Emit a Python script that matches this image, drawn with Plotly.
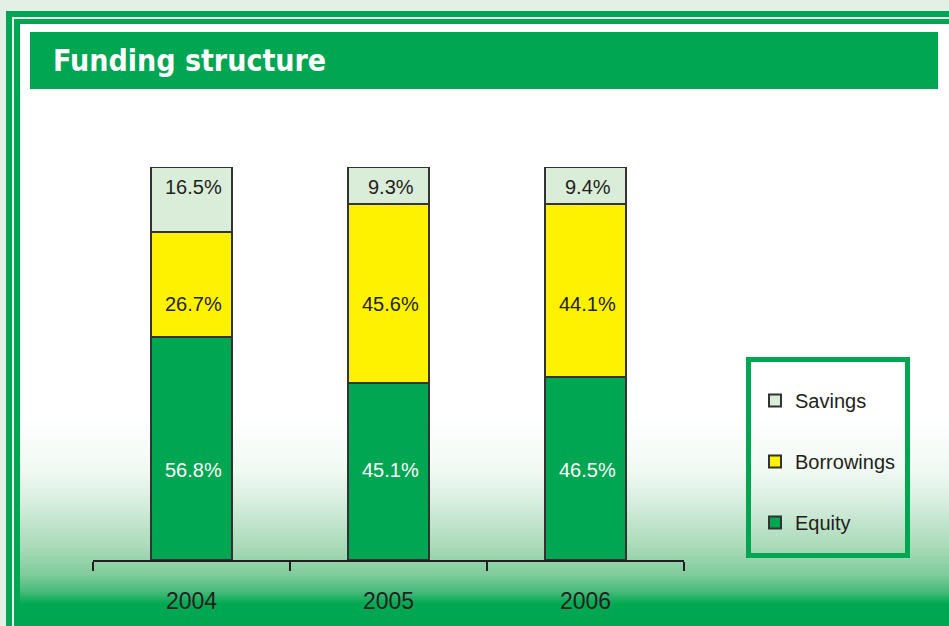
import plotly.graph_objects as go

# ---- data ----
years = ["2004", "2005", "2006"]
equity = [56.8, 45.1, 46.5]
borrowings = [26.7, 45.6, 44.1]
savings = [16.5, 9.3, 9.4]
series_names = ["Equity", "Borrowings", "Savings"]
title_text = "Funding structure"

# ---- geometry / style ----
W, H = 949, 626
L, R, T, B = 93, 265, 167, 66
PW, PH = W - L - R, H - T - B
GREEN = "#00a651"
DARK = "#231f20"
SANS = "Liberation Sans, Arial, sans-serif"
COND = "DejaVu Sans Condensed, DejaVu Sans, sans-serif"
# value-label rows (y in axis units) used by the original for each series
LABEL_ROW = {"Equity": 22.9, "Borrowings": 65.2, "Savings": 94.9}


def fx(p):
    return (p - L) / PW


def fy(p):
    return (H - B - p) / PH


def hex2rgb(h):
    h = h.lstrip("#")
    return tuple(int(h[i:i + 2], 16) for i in (0, 2, 4))


def interp(stops, p):
    if p <= stops[0][0]:
        return stops[0][1]
    for (p0, c0), (p1, c1) in zip(stops, stops[1:]):
        if p0 <= p <= p1:
            t = (p - p0) / (p1 - p0) if p1 > p0 else 0
            a, b = hex2rgb(c0), hex2rgb(c1)
            return "rgb(%d,%d,%d)" % tuple(round(a[i] + (b[i] - a[i]) * t) for i in range(3))
    return stops[-1][1]


grad_stops = [(415, "#ffffff"), (470, "#f1f9f3"), (500, "#d9eee0"),
              (550, "#a6d9b6"), (575, "#7fcb9b"), (592, "#45ba79"),
              (604, "#00a852"), (626, "#00a651")]


def rect(x0, x1, y0, y1, color):
    return dict(type="rect", xref="paper", yref="paper", x0=fx(x0), x1=fx(x1), y0=fy(y0), y1=fy(y1),
                fillcolor=color, line_width=0, layer="below")


shapes = []
# light green surround
shapes.append(rect(0, W, 0, 24, "#e2f0e6"))
shapes.append(rect(0, 20, 0, H, "#e2f0e6"))
shapes.append(rect(12, W, 17, 19, "#edf7f0"))
shapes.append(rect(12, 14, 17, H, "#edf7f0"))
# gradient strips
step = 2
p = 414
while p < H:
    shapes.append(rect(20, W, p, p + step + 0.6, interp(grad_stops, p + step / 2)))
    p += step
# double border lines
shapes.append(rect(6, 12, 11, H, GREEN))
shapes.append(rect(6, W, 11, 17, GREEN))
shapes.append(rect(14, 20, 19, H, GREEN))
shapes.append(rect(14, W, 19, 24, GREEN))
# title bar
shapes.append(rect(30, 938, 32, 89, GREEN))
# legend box
shapes.append(dict(type="rect", xref="paper", yref="paper", x0=fx(748.5), x1=fx(907.5),
                   y0=fy(359.5), y1=fy(555.5), fillcolor="rgba(0,0,0,0)",
                   line=dict(color=GREEN, width=5), layer="below"))

annotations = [dict(
    text="<b>" + title_text + "</b>", xref="paper", yref="paper",
    x=fx(51), y=fy(61), xanchor="left", yanchor="middle", showarrow=False,
    font=dict(family=COND, size=30, color="#ffffff"),
)]

fig = go.Figure()
for rank, (name, vals, fill, tcol) in zip([3, 2, 1], [
    (series_names[0], equity, GREEN, "#ffffff"),
    (series_names[1], borrowings, "#fff200", DARK),
    (series_names[2], savings, "#d9edd9", DARK),
]):
    fig.add_trace(go.Bar(
        x=years, y=vals, name=name, legendgroup=name, legendrank=rank,
        marker=dict(color=fill, line=dict(color="#333333", width=2)),
        hoverinfo="skip",
    ))
    for i, v in enumerate(vals):
        annotations.append(dict(
            x=i, y=LABEL_ROW[name], xref="x", yref="y", text=f"{v:.1f}%",
            showarrow=False, xanchor="center", yanchor="middle", xshift=2,
            font=dict(family=SANS, size=20, color=tcol),
        ))

fig.update_layout(
    width=W, height=H,
    margin=dict(l=L, r=R, t=T, b=B, autoexpand=False),
    paper_bgcolor="#ffffff", plot_bgcolor="rgba(0,0,0,0)",
    barmode="stack", bargap=0.59,
    shapes=shapes,
    annotations=annotations,
    showlegend=True,
    legend=dict(
        xref="container", yref="container",
        x=755 / W, y=1 - 381 / H, xanchor="left", yanchor="top",
        traceorder="grouped", tracegroupgap=32,
        bgcolor="rgba(0,0,0,0)", borderwidth=0,
        font=dict(family=SANS, size=20, color=DARK),
    ),
    xaxis=dict(
        type="category", tickson="boundaries", ticks="outside", ticklen=9, tickwidth=2,
        tickcolor=DARK, showline=True, linecolor=DARK, linewidth=2, showgrid=False,
        tickfont=dict(family=SANS, size=23, color=DARK), ticklabelstandoff=19,
        zeroline=False, fixedrange=True,
    ),
    yaxis=dict(range=[0, 100], visible=False, showgrid=False, zeroline=False, fixedrange=True),
)

fig.write_html("out.html")
